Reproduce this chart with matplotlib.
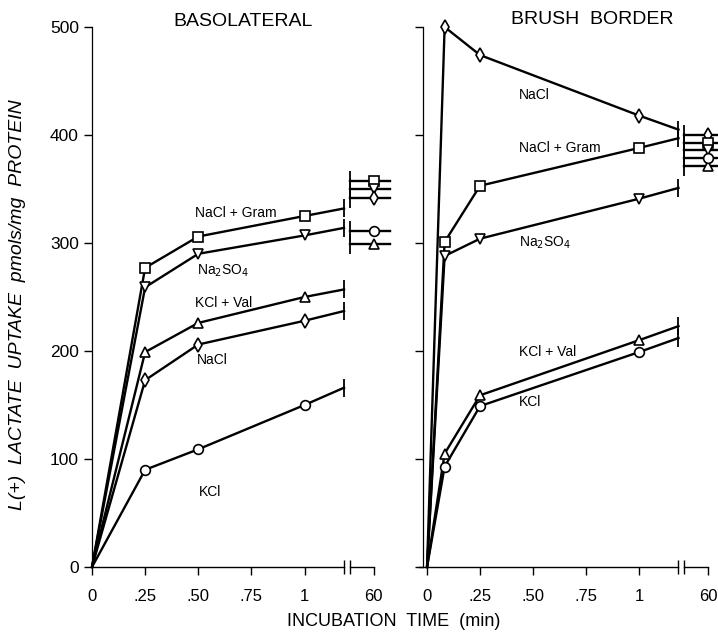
import numpy as np
from matplotlib import pyplot as plt

plt.rcParams['font.family'] = ['Liberation Sans', 'DejaVu Sans']

# sampling times (min) before the axis break
baso_times = [0, 0.25, 0.5, 1]
brush_times = [0, 0.083, 0.25, 1]

# basolateral vesicles, pmols/mg protein
# order: NaCl+Gram, Na2SO4, KCl+Val, NaCl, KCl
baso_names = ['NaCl + Gram', 'Na$_2$SO$_4$', 'KCl + Val', 'NaCl', 'KCl']
baso_values = [
    [0, 277, 306, 325],
    [0, 259, 290, 307],
    [0, 199, 226, 250],
    [0, 173, 206, 228],
    [0, 90, 109, 150],
]
baso_end = [332, 314, 257, 237, 166]
baso_60 = [357, 350, 299, 342, 311]
baso_markers = ['s', 'v', '^', 'd', 'o']
# label positions (x, y) in data units
baso_label_pos = [(0.485, 328), (0.494, 274), (0.485, 244), (0.494, 192), (0.503, 69)]

# brush border vesicles
# order: NaCl, NaCl+Gram, Na2SO4, KCl+Val, KCl
brush_names = ['NaCl', 'NaCl + Gram', 'Na$_2$SO$_4$', 'KCl + Val', 'KCl']
brush_values = [
    [0, 500, 474, 418],
    [0, 301, 353, 388],
    [0, 288, 304, 341],
    [0, 105, 159, 210],
    [0, 93, 149, 199],
]
brush_end = [405, 397, 351, 223, 212]
brush_60 = [400, 393, 386, 371, 379]
brush_markers = ['d', 's', 'v', '^', 'o']
brush_label_pos = [(0.434, 437), (0.434, 388), (0.434, 300), (0.434, 199), (0.434, 153)]

# where the broken axis sits
x_break = 1.186
x_seg = 1.214
x_60 = 1.326
x_dash = 1.40

tick_pos = [0, 0.25, 0.5, 0.75, 1, x_60]
tick_lab = ['0', '.25', '.50', '.75', '1', '60']


def draw_panel(ax, times, values, ends, at60, markers, names, label_pos, x_left):
    mk = dict(ms=7, mfc='white', mec='k', mew=1.2, ls='none', clip_on=False, zorder=4)
    for vals, end, v60, m, name, pos in zip(values, ends, at60, markers, names, label_pos):
        # line up to the break, ends with a short bar
        ax.plot(times + [x_break], vals + [end], color='k', lw=1.7, clip_on=False, zorder=3)
        ax.plot([x_break], [end], marker='|', ms=13, mew=1.3, color='k', clip_on=False)
        ax.plot(times[1:], vals[1:], marker=m, **mk)
        # 60 min point after the break
        ax.plot([x_seg, x_dash], [v60, v60], color='k', lw=1.7, clip_on=False, zorder=3)
        ax.plot([x_seg], [v60], marker='|', ms=14, mew=1.3, color='k', clip_on=False)
        ax.plot([x_60], [v60], marker=m, **mk)
        ax.text(pos[0], pos[1], name, fontsize=10, ha='left', va='center')

    # broken x axis
    ax.plot([x_left, x_break], [0, 0], color='k', lw=1.0, clip_on=False)
    ax.plot([x_break], [0], marker='|', ms=10, mew=1.0, color='k', clip_on=False)
    ax.plot([x_seg, x_60], [0, 0], color='k', lw=1.0, clip_on=False)
    ax.plot([x_seg], [0], marker='|', ms=10, mew=1.0, color='k', clip_on=False)

    ax.set_ylim(0, 500)
    ax.set_xticks(tick_pos)
    ax.set_xticklabels(tick_lab, fontsize=12)
    ax.set_yticks([0, 100, 200, 300, 400, 500])
    for s in ['top', 'right', 'bottom']:
        ax.spines[s].set_visible(False)
    ax.spines['left'].set_linewidth(0.9)
    ax.tick_params(axis='both', direction='out', length=6, width=1.0, colors='k')
    ax.tick_params(axis='x', pad=10)
    ax.patch.set_alpha(0)


fig = plt.figure(figsize=(7.18, 6.37), dpi=100)

ax1 = fig.add_axes([92 / 718, 70 / 637, 1.42 * 212.5 / 718, 540 / 637])
ax1.set_xlim(0, 1.42)
draw_panel(ax1, baso_times, baso_values, baso_end, baso_60, baso_markers,
           baso_names, baso_label_pos, 0)
ax1.set_yticklabels(['0', '100', '200', '300', '400', '500'], fontsize=12.5)

ax2 = fig.add_axes([422.8 / 718, 70 / 637, 1.39 * 212 / 718, 540 / 637])
ax2.set_xlim(-0.02, 1.37)
draw_panel(ax2, brush_times, brush_values, brush_end, brush_60, brush_markers,
           brush_names, brush_label_pos, -0.04)
ax2.set_yticklabels([])

fig.text(243 / 718, 1 - 21 / 637, 'BASOLATERAL', fontsize=14, ha='center', va='center')
fig.text(592 / 718, 1 - 20 / 637, 'BRUSH  BORDER', fontsize=14, ha='center', va='center')
fig.text(394 / 718, 1 - 622 / 637, 'INCUBATION  TIME  (min)', fontsize=13, ha='center', va='center')
fig.text(18 / 718, 1 - 305 / 637, 'L(+)  LACTATE  UPTAKE  pmols/mg  PROTEIN', fontsize=14,
         style='italic', rotation=90, ha='center', va='center')

plt.savefig('out.png', dpi=100)
